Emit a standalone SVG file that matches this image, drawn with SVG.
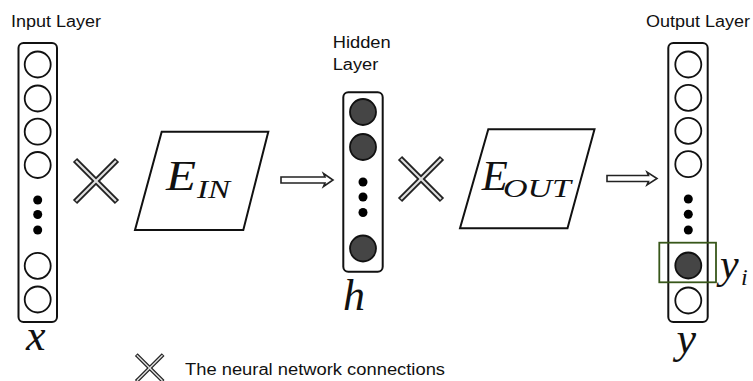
<svg xmlns="http://www.w3.org/2000/svg" width="753" height="381" viewBox="0 0 753 381">
<style>
.lbl{font-family:"Liberation Sans",Arial,sans-serif;font-size:16px;fill:#111}
.math{font-family:"Liberation Serif","Times New Roman",serif;font-style:italic;fill:#111}
.box{fill:#fff;stroke:#111;stroke-width:2}
.o{fill:#fff;stroke:#111;stroke-width:1.8}
.f{fill:#454545;stroke:#111;stroke-width:1.8}
.dot{fill:#000}
.para{fill:#fff;stroke:#111;stroke-width:2}
.xo{stroke:#222;stroke-width:6}
.xi{stroke:#e0e0e0;stroke-width:2.2}
.arr{fill:#fff;stroke:#222;stroke-width:1.6;stroke-linejoin:miter}
</style>
<defs>
<g id="cross">
<line class="xo" x1="-21" y1="-21" x2="21" y2="21"/>
<line class="xo" x1="-21" y1="21" x2="21" y2="-21"/>
<line class="xi" x1="-20" y1="-20" x2="20" y2="20"/>
<line class="xi" x1="-20" y1="20" x2="20" y2="-20"/>
</g>
</defs>
<rect width="753" height="381" fill="#fff"/>

<g id="input-layer">
<text class="lbl" x="11" y="26.5" textLength="90" lengthAdjust="spacingAndGlyphs">Input Layer</text>
<rect class="box" x="18.5" y="43" width="38.5" height="279" rx="5"/>
<circle class="o" cx="37.7" cy="64.5" r="13"/>
<circle class="o" cx="37.7" cy="98.5" r="13"/>
<circle class="o" cx="37.7" cy="131.7" r="13"/>
<circle class="o" cx="37.7" cy="165" r="13"/>
<circle class="dot" cx="37.7" cy="200" r="4.5"/>
<circle class="dot" cx="37.7" cy="214.5" r="4.5"/>
<circle class="dot" cx="37.7" cy="230" r="4.5"/>
<circle class="o" cx="37.7" cy="265.8" r="13"/>
<circle class="o" cx="37.7" cy="299.5" r="13"/>
<text class="math" x="26" y="350" font-size="44">x</text>
</g>

<g id="e-in">
<polygon class="para" points="161.7,131.7 268.3,131.7 243.3,230 135,230"/>
<text class="math" x="166" y="190" font-size="42" textLength="30" lengthAdjust="spacingAndGlyphs">E</text>
<text class="math" x="197" y="198" font-size="26" textLength="33" lengthAdjust="spacingAndGlyphs">IN</text>
</g>

<g id="hidden-layer">
<text class="lbl" x="332.7" y="48" textLength="58" lengthAdjust="spacingAndGlyphs">Hidden</text>
<text class="lbl" x="332.7" y="70" textLength="45.6" lengthAdjust="spacingAndGlyphs">Layer</text>
<rect class="box" x="343.3" y="92.3" width="39.4" height="179.4" rx="5"/>
<circle class="f" cx="363" cy="112" r="13"/>
<circle class="f" cx="363" cy="147" r="13"/>
<circle class="dot" cx="363" cy="182" r="4.5"/>
<circle class="dot" cx="363" cy="197" r="4.5"/>
<circle class="dot" cx="363" cy="212.5" r="4.5"/>
<circle class="f" cx="363" cy="248.5" r="13"/>
<text class="math" x="343" y="310" font-size="44">h</text>
</g>

<g id="e-out">
<polygon class="para" points="488.3,129.3 594.5,129.3 567.5,228.3 460,228.3"/>
<text class="math" x="481.7" y="190" font-size="42" textLength="26" lengthAdjust="spacingAndGlyphs">E</text>
<text class="math" x="503" y="197" font-size="26" textLength="68" lengthAdjust="spacingAndGlyphs">OUT</text>
</g>

<g id="output-layer">
<text class="lbl" x="646" y="26.5" textLength="104" lengthAdjust="spacingAndGlyphs">Output Layer</text>
<rect class="box" x="668.3" y="43" width="39.4" height="279" rx="5"/>
<circle class="o" cx="688.3" cy="64.5" r="13"/>
<circle class="o" cx="688.3" cy="97.8" r="13"/>
<circle class="o" cx="688.3" cy="130.8" r="13"/>
<circle class="o" cx="688.3" cy="164.2" r="13"/>
<circle class="dot" cx="688.3" cy="199" r="4.5"/>
<circle class="dot" cx="688.3" cy="214.3" r="4.5"/>
<circle class="dot" cx="688.3" cy="230" r="4.5"/>
<circle class="f" cx="688.3" cy="265.5" r="13"/>
<circle class="o" cx="688.3" cy="300.5" r="13"/>
<rect x="659.3" y="242.7" width="56.7" height="39.6" fill="none" stroke="#38571a" stroke-width="1.8"/>
<text class="math" x="720" y="278" font-size="42">y</text>
<text class="math" x="741" y="285" font-size="24">i</text>
<text class="math" x="676.5" y="353" font-size="44">y</text>
</g>

<g id="connectors">
<use href="#cross" x="96" y="181"/>
<polygon class="arr" points="281,177 325,177 323.5,173.5 333,180 323.5,186.5 325,183 281,183"/>
<use href="#cross" x="421" y="179"/>
<polygon class="arr" points="607,175.5 648.5,175.5 647,172 657,178.5 647,185 648.5,181.5 607,181.5"/>
</g>

<g id="legend">
<use href="#cross" transform="translate(149.7,368) scale(0.64)"/>
<text class="lbl" x="185" y="375" font-size="18" textLength="260" lengthAdjust="spacingAndGlyphs">The neural network connections</text>
</g>
</svg>
